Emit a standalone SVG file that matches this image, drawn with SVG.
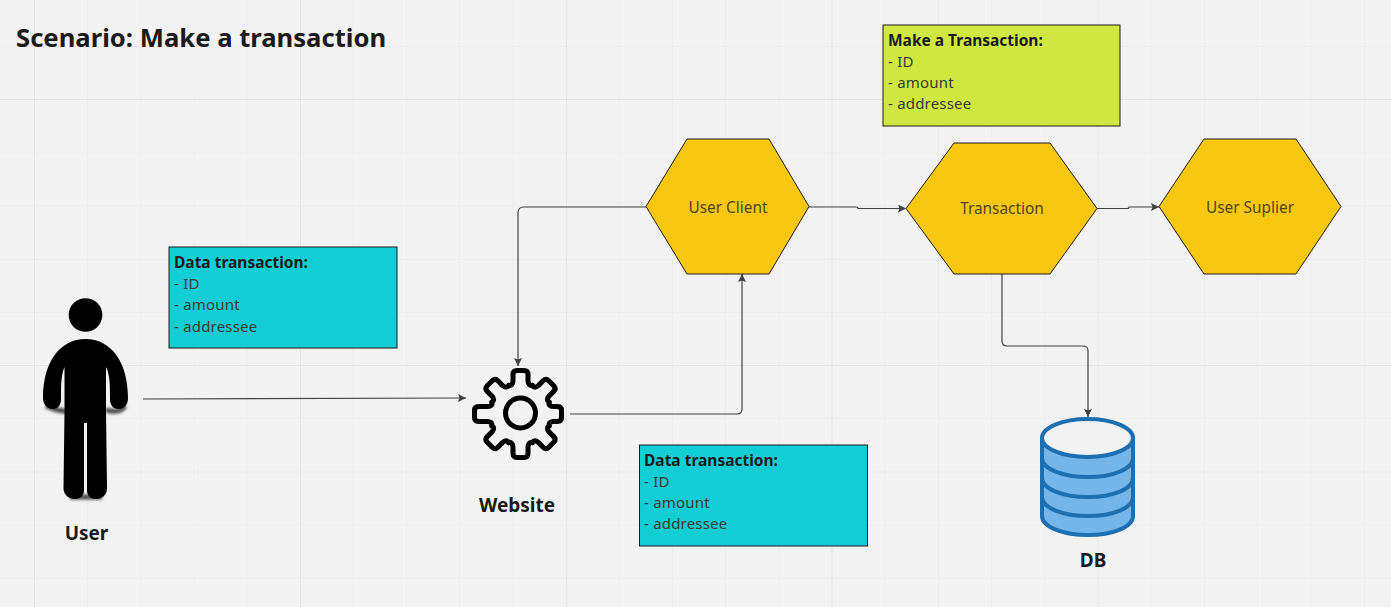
<svg xmlns="http://www.w3.org/2000/svg" width="1391" height="607" viewBox="0 0 1391 607">
<style>
text{font-family:"Noto Sans","Open Sans","Liberation Sans",sans-serif;fill:#1a1a1a}
.g1{stroke:#ececec;stroke-width:1;fill:none}
.g2{stroke:#e4e4e4;stroke-width:1;fill:none}
.hex{fill:#fac710;stroke:#1a1a1a;stroke-width:1}
.card{stroke:#1a1a1a;stroke-width:1}
.teal{fill:#12cdd4}
.lime{fill:#cee741}
.ct{font-size:15px;fill:#3a3a30;letter-spacing:.2px}
.cb{font-size:15.500px;font-weight:700;fill:#1a1a1a}
.hl{font-size:15.400px;fill:#4a4520;text-anchor:middle}
.lb{font-size:19px;font-weight:700;text-anchor:middle}
.con{fill:none;stroke:#414141;stroke-width:1.2;marker-end:url(#ah)}
.dbs{stroke:#1c6fb0;stroke-width:4;fill:none}
.gear{fill:none;stroke:#000;stroke-width:5;stroke-linejoin:round;stroke-linecap:round}
</style>
<defs>
<marker id="ah" markerUnits="userSpaceOnUse" markerWidth="10" markerHeight="10" refX="8" refY="4" orient="auto"><path d="M0 0L8 4L0 8L1.500 4Z" fill="#414141"/></marker>
<path id="tooth" d="M-11.900-28.600Q-8-27.500-7.500-33L-7.500-39.500Q-7.500-43.500-3.500-43.500L3.500-43.500Q7.500-43.500 7.500-39.500L7.500-33Q8-27.500 11.900-28.600"/>
<path id="tooth-long" d="M-11.900-28.600Q-8-27.500-7.500-33L-7.500-42Q-7.500-46-3.500-46L3.500-46Q7.500-46 7.500-42L7.500-33Q8-27.500 11.900-28.600"/>
<path id="tooth-short" d="M-11.900-28.600Q-8-27.500-7.500-33L-7.500-37Q-7.500-41-3.500-41L3.500-41Q7.500-41 7.500-37L7.500-33Q8-27.500 11.900-28.600"/>
<filter id="bl" x="-50%" y="-100%" width="200%" height="300%"><feGaussianBlur stdDeviation="1.500"/></filter>
</defs>
<rect width="1391" height="607" fill="#f2f2f2"/>
<g id="grid">
<path class="g1" d="M87.500 0V607M141 0V607M194 0V607M247 0V607M353 0V607M406.500 0V607M459.500 0V607M513 0V607M619 0V607M672.500 0V607M725.500 0V607M779 0V607M885 0V607M938.500 0V607M991.500 0V607M1045 0V607M1151 0V607M1204.500 0V607M1257.500 0V607M1311 0V607M1364.500 0V607"/>
<path class="g1" d="M0 46.500H1391M0 153H1391M0 206H1391M0 259.500H1391M0 312.500H1391M0 418.500H1391M0 472H1391M0 525H1391M0 578H1391"/>
<path class="g2" d="M34.500 0V607M300.500 0V607M566.500 0V607M832 0V607M1098 0V607M0 99.500H1391M0 365.500H1391"/>
</g>
<g id="title"><text x="16" y="47" font-size="25.650" font-weight="700">Scenario: Make a transaction</text></g>
<g id="connectors">
<path class="con" d="M143 399L466 398"/>
<path class="con" d="M646 207H524Q518 207 518 213V366"/>
<path class="con" d="M570 414H737Q742 414 742 409V274"/>
<path class="con" d="M809 207H856Q858 207 858 208L858 208.500H906"/>
<path class="con" d="M1097 208.500H1127Q1129 208.500 1129 207.500L1129 207H1159"/>
<path class="con" d="M1002 274V341Q1002 346 1007 346H1083Q1088 346 1088 351V417"/>
</g>
<g id="user">
<path d="M46 406Q64 414 80 410M106 410Q120 414 125 406M70 497L102 497" fill="none" stroke="#000" stroke-width="5" opacity=".7" filter="url(#bl)"/>
<circle cx="85.500" cy="315" r="16.800"/>
<path d="M85.500 339C60 339 43 362 43 398C43 405 48 409 53 409C58 409 61 405 61 399C61 385 61 375 64.500 367L64.500 412L63.500 488C63.500 495 69 499 75 499C80 499 84 496 84 490L84 423L87 423L87 490C87 496 91 499 96 499C102 499 107 495 107 488L106 412L106 367C110 375 110 385 110 399C110 405 113 409 118.500 409C124 409 128 405 128 398C128 362 111 339 85.500 339Z"/>
<text class="lb" x="86.500" y="540">User</text>
</g>
<g id="website">
<g class="gear" transform="translate(520.500 414)">
<circle cy="-1" r="15"/>
<use href="#tooth"/>
<use href="#tooth" transform="rotate(45)"/>
<use href="#tooth-short" transform="rotate(90)"/>
<use href="#tooth" transform="rotate(135)"/>
<use href="#tooth" transform="rotate(180)"/>
<use href="#tooth" transform="rotate(225)"/>
<use href="#tooth-long" transform="rotate(270)"/>
<use href="#tooth" transform="rotate(315)"/>
</g>
<text class="lb" x="517" y="512">Website</text>
</g>
<g id="db">
<path d="M1042 438V516C1042 527 1063 535 1088 535C1113 535 1133 527 1133 516V438Z" fill="#74b6ea"/>
<path class="dbs" d="M1042 438V516C1042 527 1063 535 1088 535C1113 535 1133 527 1133 516V438"/>
<ellipse class="dbs" cx="1087.500" cy="438" rx="45.500" ry="19" style="fill:#f2f2f2"/>
<path class="dbs" d="M1042 458C1042 469 1063 477 1088 477C1113 477 1133 469 1133 458M1042 478C1042 489 1063 497 1088 497C1113 497 1133 489 1133 478M1042 497C1042 508 1063 516 1088 516C1113 516 1133 508 1133 497"/>
<text class="lb" x="1093" y="567">DB</text>
</g>
<g id="user-client">
<polygon class="hex" points="646,206.500 687,139 769,139 809,206.500 769,274 687,274"/>
<text class="hl" x="728" y="212.500">User Client</text>
</g>
<g id="transaction">
<polygon class="hex" points="906,208.500 954,143 1050,143 1097,208.500 1050,274 954,274"/>
<text class="hl" x="1002" y="214">Transaction</text>
</g>
<g id="user-suplier">
<polygon class="hex" points="1159,206.500 1204,139 1296,139 1341,206.500 1296,274 1204,274"/>
<text class="hl" x="1250" y="212.500">User Suplier</text>
</g>
<g id="data-transaction-1">
<rect class="card teal" x="169" y="247" width="228" height="101"/>
<text class="cb" x="174" y="267.500">Data transaction:</text>
<text class="ct" x="174" y="289">- ID</text>
<text class="ct" x="174" y="310">- amount</text>
<text class="ct" x="174" y="332">- addressee</text>
</g>
<g id="data-transaction-2">
<rect class="card teal" x="639.500" y="445" width="228" height="101"/>
<text class="cb" x="644" y="465.500">Data transaction:</text>
<text class="ct" x="644" y="487">- ID</text>
<text class="ct" x="644" y="508">- amount</text>
<text class="ct" x="644" y="529">- addressee</text>
</g>
<g id="make-transaction">
<rect class="card lime" x="883" y="25" width="237" height="101"/>
<text class="cb" x="888" y="45.500">Make a Transaction:</text>
<text class="ct" x="888" y="67">- ID</text>
<text class="ct" x="888" y="88">- amount</text>
<text class="ct" x="888" y="109">- addressee</text>
</g>
</svg>
